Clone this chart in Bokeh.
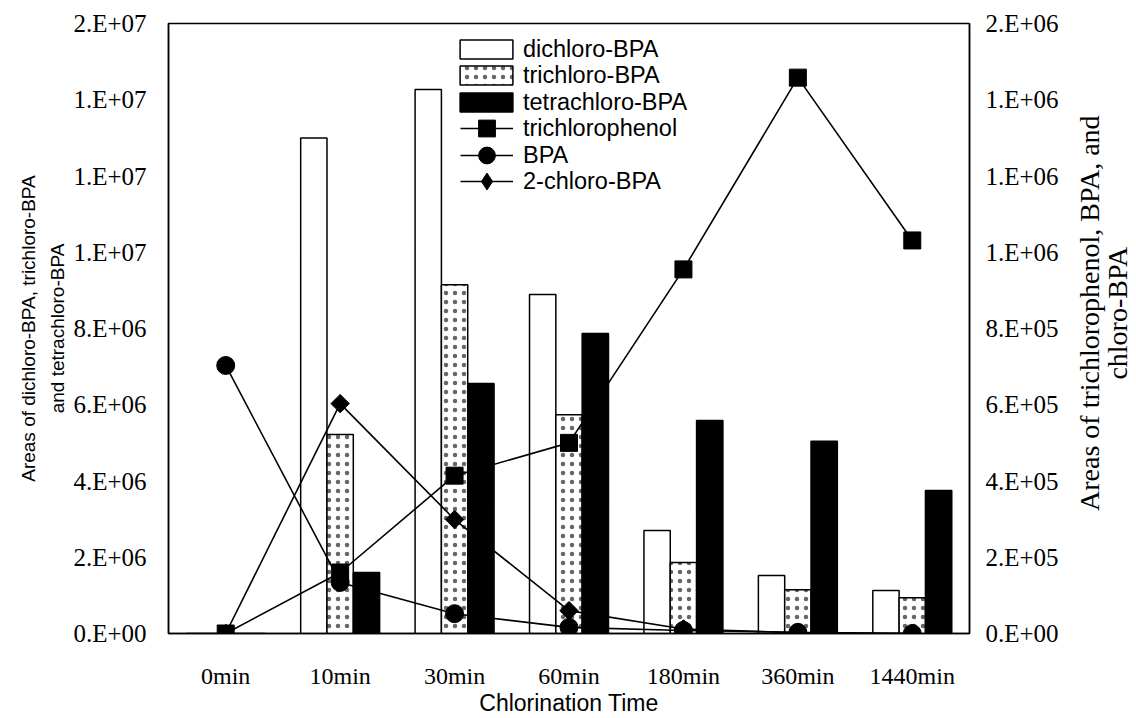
import numpy as np
from bokeh.plotting import figure
from bokeh.layouts import row
from bokeh.core.properties import value
from bokeh.models import (ColumnDataSource, FactorRange, Range1d, LinearAxis,
                          FixedTicker, Legend, LegendItem)
from bokeh.transform import dodge
from bokeh.embed import file_html
from bokeh.resources import INLINE

# ---------------- data ----------------
categories = ["0min", "10min", "30min", "60min", "180min", "360min", "1440min"]
dichloro_bpa = [0, 1.30e7, 1.427e7, 8.89e6, 2.70e6, 1.52e6, 1.13e6]
trichloro_bpa = [0, 5.22e6, 9.15e6, 5.74e6, 1.86e6, 1.15e6, 0.94e6]
tetrachloro_bpa = [0, 1.60e6, 6.56e6, 7.87e6, 5.59e6, 5.04e6, 3.75e6]
trichlorophenol = [0, 1.60e5, 4.14e5, 5.00e5, 9.55e5, 1.458e6, 1.031e6]
bpa = [7.03e5, 1.34e5, 5.2e4, 1.6e4, 8e3, 3e3, 0]
chloro2_bpa = [0, 6.03e5, 2.99e5, 6.0e4, 1.2e4, 2e3, 0]

series_names = ["dichloro-BPA", "trichloro-BPA", "tetrachloro-BPA",
                "trichlorophenol", "BPA", "2-chloro-BPA"]

left_ticks = [0, 2000000, 4000000, 6000000, 8000000, 10000000, 12000000, 14000000, 16000000]
left_tick_labels = ["0.E+00", "2.E+06", "4.E+06", "6.E+06", "8.E+06",
                    "1.E+07", "1.E+07", "1.E+07", "2.E+07"]
right_ticks = [0, 200000, 400000, 600000, 800000, 1000000, 1200000, 1400000, 1600000]
right_tick_labels = ["0.E+00", "2.E+05", "4.E+05", "6.E+05", "8.E+05",
                     "1.E+06", "1.E+06", "1.E+06", "2.E+06"]

left_title = "Areas of dichloro-BPA, trichloro-BPA\nand tetrachloro-BPA"
right_title = "Areas of trichlorophenol, BPA, and\nchloro-BPA"
x_title = "Chlorination Time"

src = ColumnDataSource(dict(cat=categories, d=dichloro_bpa, t=trichloro_bpa,
                            tc=tetrachloro_bpa, tcp=trichlorophenol, bpa=bpa,
                            c2=chloro2_bpa))

p = figure(x_range=FactorRange(factors=categories, range_padding=0),
           y_range=Range1d(0, 1.6e7),
           width=1070, height=718, output_backend="svg", toolbar_location=None,
           min_border_left=168, min_border_right=101, min_border_top=23,
           min_border_bottom=85)
p.extra_y_ranges = {"right": Range1d(0, 1.6e6)}

bw = 0.23
r1 = p.vbar(x=dodge('cat', -bw, range=p.x_range), top='d', width=bw, source=src,
            fill_color="white", line_color="black", line_width=1.5)
r2 = p.vbar(x=dodge('cat', 0.0, range=p.x_range), top='t', width=bw, source=src,
            fill_color="white", line_color="black", line_width=1.5,
            hatch_pattern="dot", hatch_color="black", hatch_scale=9, hatch_weight=1.3,
            hatch_alpha=0.6)
r3 = p.vbar(x=dodge('cat', bw, range=p.x_range), top='tc', width=bw, source=src,
            fill_color="black", line_color="black", line_width=1.5)

l1 = p.line('cat', 'tcp', source=src, y_range_name="right", line_color="black", line_width=1.6)
m1 = p.scatter('cat', 'tcp', source=src, y_range_name="right", marker="square", size=17,
               fill_color="black", line_color="black")
l2 = p.line('cat', 'bpa', source=src, y_range_name="right", line_color="black", line_width=1.6)
m2 = p.scatter('cat', 'bpa', source=src, y_range_name="right", marker="circle", size=18,
               fill_color="black", line_color="black")
l3 = p.line('cat', 'c2', source=src, y_range_name="right", line_color="black", line_width=1.6)
m3 = p.scatter('cat', 'c2', source=src, y_range_name="right", marker="square", size=13,
               angle=np.pi / 4, fill_color="black", line_color="black")
# diamond used only for the legend symbol
m3_leg = p.scatter('cat', 'c2', source=src, y_range_name="right", marker="diamond",
                   size=18, fill_color="black", line_color="black", visible=False)

# one small legend per entry so that rows sit exactly as in the reference
legend_style = dict(label_text_font="Liberation Sans", label_text_font_size="23.5px",
                    label_text_color="black", border_line_color=None,
                    background_fill_alpha=0, padding=0, margin=0, spacing=0)
bar_glyph = dict(glyph_width=66, glyph_height=24, label_height=34, label_standoff=4)
line_glyph = dict(glyph_width=53, glyph_height=42, label_height=34, label_standoff=10)
entries = [
    ([r1], 567, bar_glyph, 285),
    ([r2], 541, bar_glyph, 285),
    ([r3], 514, bar_glyph, 285),
    ([l1, m1], 484, line_glyph, 292),
    ([l2, m2], 457, line_glyph, 292),
    ([l3, m3_leg], 431, line_glyph, 292),
]
for name, (rends, ypos, glyph_opts, xpos) in zip(series_names, entries):
    lg = Legend(items=[LegendItem(label=name, renderers=rends)],
                location=(xpos, ypos), **glyph_opts, **legend_style)
    p.add_layout(lg, "center")

# styling
p.xgrid.grid_line_color = None
p.ygrid.grid_line_color = None
p.outline_line_color = "black"
p.outline_line_width = 1.5
p.background_fill_color = "white"
p.border_fill_color = "white"

yl = p.yaxis[0]
yl.ticker = FixedTicker(ticks=left_ticks)
yl.major_label_overrides = dict(zip(left_ticks, left_tick_labels))
yl.axis_label = left_title

yr = LinearAxis(y_range_name="right")
yr.ticker = FixedTicker(ticks=right_ticks)
yr.major_label_overrides = dict(zip(right_ticks, right_tick_labels))
p.add_layout(yr, "right")

for ax in (yl, yr):
    ax.major_tick_line_color = None
    ax.minor_tick_line_color = None
    ax.major_tick_out = 0
    ax.major_tick_in = 0
    ax.axis_line_color = "black"
    ax.axis_line_width = 1.5
    ax.major_label_text_font = "Liberation Serif"
    ax.major_label_text_font_size = "25px"
    ax.major_label_text_color = "black"
yl.major_label_standoff = 22
yr.major_label_standoff = 16
yl.axis_label_text_font = "Liberation Sans"
yl.axis_label_text_font_size = "19px"
yl.axis_label_text_font_style = "normal"
yl.axis_label_text_color = "black"
yl.axis_label_text_line_height = 1.4
yl.axis_label_standoff = 2

xa = p.xaxis[0]
xa.major_tick_line_color = None
xa.minor_tick_line_color = None
xa.major_tick_out = 0
xa.axis_line_color = "black"
xa.axis_line_width = 1.5
xa.major_label_text_font = "Liberation Serif"
xa.major_label_text_font_size = "24px"
xa.major_label_text_color = "black"
xa.major_label_standoff = 29
xa.axis_label = x_title
xa.axis_label_text_font = "Liberation Sans"
xa.axis_label_text_font_size = "23px"
xa.axis_label_text_font_style = "normal"
xa.axis_label_text_color = "black"
xa.axis_label_standoff = -2

# narrow strip holding the right-hand title (reads bottom to top)
p2 = figure(width=66, height=718, x_range=Range1d(0, 66), y_range=Range1d(0, 718),
            output_backend="svg", toolbar_location=None, min_border=0,
            x_axis_location=None, y_axis_location=None)
p2.outline_line_color = None
p2.background_fill_color = "white"
p2.border_fill_color = "white"
for g in p2.grid:
    g.visible = False
p2.text(x=[33], y=[377], text=[right_title], angle=np.pi / 2, text_align="center",
        text_baseline="middle", text_font=value("Liberation Serif"),
        text_font_size="28px", text_line_height=0.9, text_color="black")

layout = row(p, p2, spacing=0)
open("out.html", "w").write(file_html(layout, INLINE))
